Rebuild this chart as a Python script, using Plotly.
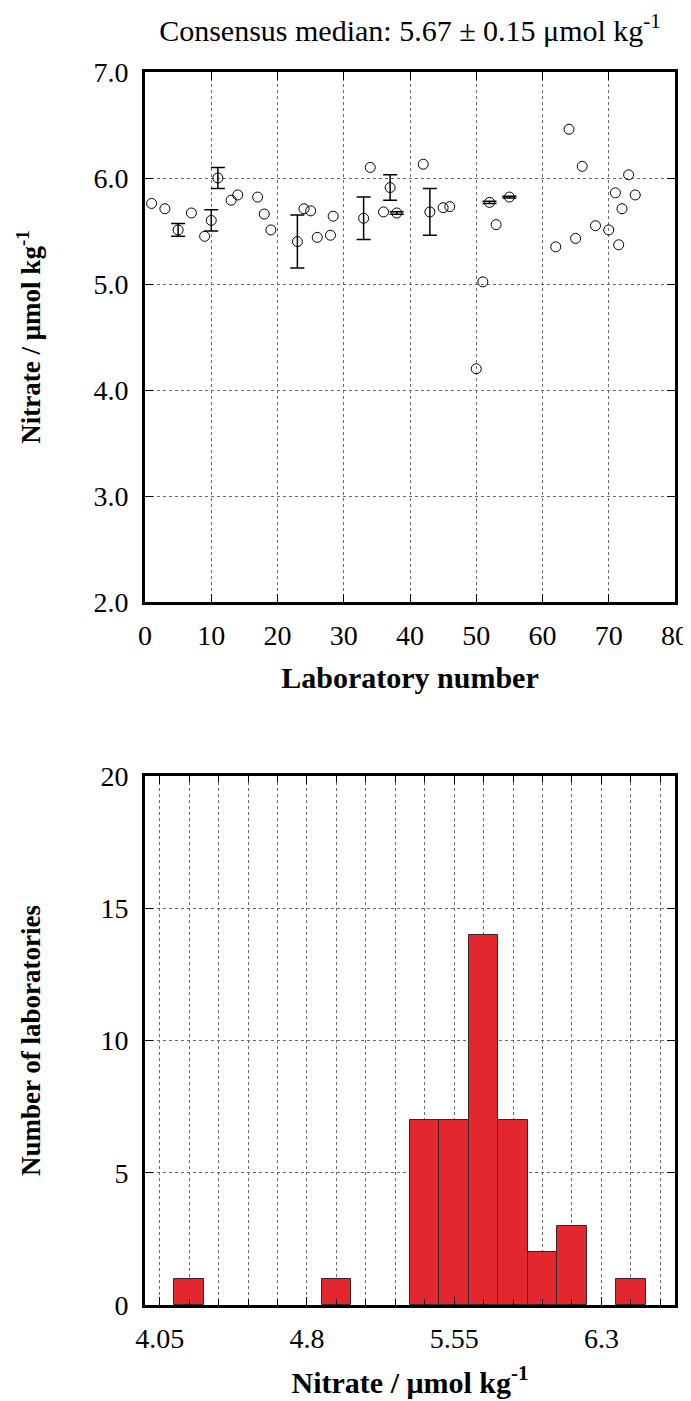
"""Nitrate intercomparison: per-laboratory results and histogram of reported values."""

import plotly.graph_objects as go

# laboratory results
LAB = [1, 3, 5, 7, 9, 10, 11, 13, 14, 17, 18, 19, 23, 24, 25, 26, 28, 28.4, 33, 34, 36,
       37, 38, 42, 43, 45, 46, 50, 51, 52, 53, 55, 62, 64, 65, 66, 68, 70, 71, 71.5, 72, 73, 74]
NITRATE = [5.76, 5.71, 5.51, 5.67, 5.45, 5.60, 6.00, 5.79, 5.84, 5.82, 5.66, 5.51, 5.40, 5.71,
           5.69, 5.44, 5.46, 5.64, 5.62, 6.10, 5.68, 5.91, 5.67, 6.13, 5.68, 5.72, 5.73, 4.20,
           5.02, 5.77, 5.56, 5.82, 5.35, 6.46, 5.43, 6.11, 5.55, 5.51, 5.86, 5.37, 5.71, 6.03, 5.84]
UNCERTAINTY = [None, None, 0.06, None, None, 0.10, 0.10, None, None, None, None, None, 0.25,
               None, None, None, None, None, 0.20, None, None, 0.12, 0.012, None, 0.22, None,
               None, None, None, 0.01, None, 0.008, None, None, None, None, None, None, None,
               None, None, None, None]

HIST_TICKS = [4.05, 4.8, 5.55, 6.3]
HIST_TICK_LABELS = ["4.05", "4.8", "5.55", "6.3"]
TITLE = "Consensus median: 5.67 ± 0.15 μmol kg<sup>-1</sup>"

FONT = "Liberation Serif"
BAR_RED = "#e2282e"
GRID = "#6b6b6b"

# the page body adds an 8px margin, so everything is laid out 8px up/left;
# the div is kept full width so the "80" label is not clipped by the svg
PAD = 8
W, H = 691, 1401 - PAD
M = {"l": 145 - PAD, "r": W + PAD - 675, "t": 72 - PAD, "b": 1401 - 1305}
plot_h = H - M["t"] - M["b"]
top_domain = [(1305 - 602) / plot_h, 1.0]
bottom_domain = [0.0, (1305 - 776) / plot_h]

axis_common = dict(
    automargin=False,
    showline=True,
    linecolor="black",
    linewidth=3,
    mirror="ticks",
    ticks="inside",
    ticklen=8,
    tickwidth=1.2,
    tickcolor="black",
    showgrid=True,
    gridcolor=GRID,
    gridwidth=1,
    griddash="dot",
    zeroline=False,
    ticklabeloverflow="allow",
    tickfont={"family": FONT, "size": 28, "color": "black"},
)

# only the labs that reported an uncertainty get error bars
err_lab = [x for x, u in zip(LAB, UNCERTAINTY) if u is not None]
err_val = [y for y, u in zip(NITRATE, UNCERTAINTY) if u is not None]
err_unc = [u for u in UNCERTAINTY if u is not None]

fig = go.Figure()
fig.add_trace(
    go.Scatter(
        x=err_lab,
        y=err_val,
        mode="none",
        error_y={
            "type": "data",
            "array": err_unc,
            "visible": True,
            "color": "black",
            "thickness": 1.5,
            "width": 7,
        },
        xaxis="x",
        yaxis="y",
        showlegend=False,
        hoverinfo="skip",
    )
)
fig.add_trace(
    go.Scatter(
        x=LAB,
        y=NITRATE,
        mode="markers",
        marker={"symbol": "circle-open", "size": 10, "color": "black", "line": {"width": 1}},
        xaxis="x",
        yaxis="y",
        showlegend=False,
    )
)
fig.add_trace(
    go.Histogram(
        x=NITRATE,
        xbins={"start": 3.975, "end": 6.675, "size": 0.15},
        marker={"color": BAR_RED, "line": {"color": "#3a2626", "width": 1}},
        xaxis="x2",
        yaxis="y2",
        showlegend=False,
    )
)

fig.update_layout(
    width=W,
    height=H,
    margin=M,
    paper_bgcolor="white",
    plot_bgcolor="white",
    font={"family": FONT, "color": "black"},
    bargap=0,
    title={
        "text": TITLE,
        "x": (M["l"] + W - M["r"]) / 2 / W,
        "xanchor": "center",
        "y": 1 - 22 / H,
        "yanchor": "middle",
        "font": {"family": FONT, "size": 30, "color": "black"},
    },
    xaxis={
        **axis_common,
        "domain": [0, 1],
        "anchor": "y",
        "range": [0, 80],
        "dtick": 10,
        "tick0": 0,
        "ticklabelstandoff": 6,
        "title": {
            "text": "<b>Laboratory number</b>",
            "font": {"family": FONT, "size": 30},
            "standoff": 18,
        },
    },
    yaxis={
        **axis_common,
        "domain": top_domain,
        "anchor": "x",
        "range": [2, 7],
        "dtick": 1,
        "tick0": 2,
        "tickformat": ".1f",
        "ticklabelstandoff": 8,
        "title": {
            "text": "<b>Nitrate / μmol kg<sup>-1</sup></b>",
            "font": {"family": FONT, "size": 27},
            "standoff": 45,
        },
    },
    xaxis2={
        **axis_common,
        "domain": [0, 1],
        "anchor": "y2",
        "range": [3.975, 6.675],
        "tickmode": "array",
        "tickvals": HIST_TICKS,
        "ticktext": HIST_TICK_LABELS,
        "ticklabelstandoff": 6,
        "minor": {
            "dtick": 0.15,
            "tick0": 4.05,
            "ticks": "inside",
            "ticklen": 6,
            "tickcolor": "black",
            "showgrid": True,
            "gridcolor": GRID,
            "griddash": "dot",
            "gridwidth": 1,
        },
        "title": {
            "text": "<b>Nitrate / μmol kg<sup>-1</sup></b>",
            "font": {"family": FONT, "size": 30},
            "standoff": 20,
        },
    },
    yaxis2={
        **axis_common,
        "domain": bottom_domain,
        "anchor": "x2",
        "range": [0, 20],
        "dtick": 5,
        "tick0": 0,
        "ticklabelstandoff": 8,
        "title": {
            "text": "<b>Number of laboratories</b>",
            "font": {"family": FONT, "size": 27},
            "standoff": 52,
        },
    },
)

fig.write_html("out.html")
